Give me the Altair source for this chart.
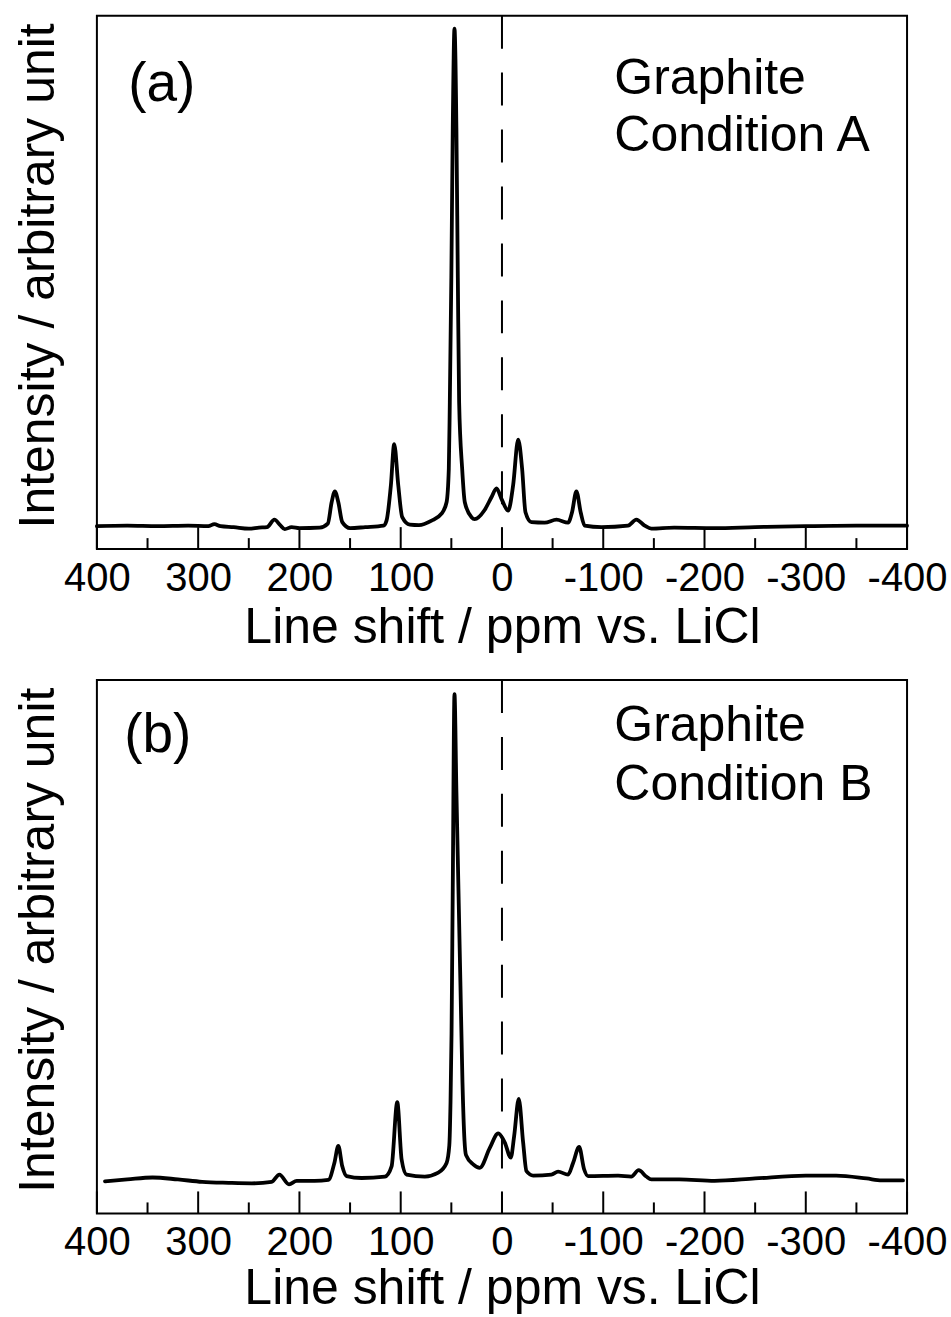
import altair as alt
import pandas as pd

# ---------------- data ----------------
# Panel (a): line shift (ppm) and relative intensity (main peak = 100)
ppm_a = [400, 370, 340, 310, 290, 284, 278, 265, 250, 240, 232, 224.7, 219, 214.5, 207.7, 200, 180,
         172, 168.2, 165, 161.6, 157.7, 150, 135, 117,
         114, 109.7, 106.4, 102.4, 98.5, 91, 82, 69.5, 59.7, 54.7, 52.5, 51.5,
         50.0, 48.6, 46.9, 45.0, 43.6, 42.3, 39.3, 36.7, 30.1, 27, 17.3, 10.4, 5.4, 0.5,
         -6.1, -11, -16, -19.9, -23.2, -29.1, -42.2, -53.8, -65.3, -69.2, -73.5, -77.7, -81.7,
         -98.2, -124.5, -132.7, -140.9, -147.5, -170, -210, -250, -300, -350, -400]
int_a = [0.0, 0.1, 0.0, 0.1, 0.0, 0.4, 0.0, -0.2, -0.5, -0.3, -0.2, 1.3, 0.2, -0.6, -0.2, -0.4, -0.3,
         0.5, 4.8, 7.0, 4.8, 0.8, -0.4, -0.2, 0.1,
         1.1, 8.2, 16.5, 8.2, 1.8, 0.3, 0.2, 1.1, 2.5, 4.8, 11.5, 24.9,
         50, 80, 100, 80, 50, 24.9, 11.5, 4.8, 1.8, 1.4, 3.2, 5.8, 7.6, 5.5,
         3.1, 8.2, 17.4, 11.5, 2.8, 0.8, 0.7, 1.3, 0.7, 2.8, 7.0, 2.8, 0.1,
         -0.2, 0.1, 1.3, 0.1, -0.5, -0.3, -0.4, -0.2, 0.0, 0.1, 0.1]

# Panel (b)
ppm_b = [392, 370, 345, 320, 296, 270, 247, 227.4, 219.8, 210.3, 202.7, 185, 171.4,
         165.5, 161.6, 157.7, 153.4, 138.6, 115.6, 109, 103.4, 99.1, 94.2, 76.2, 62.9, 54.7,
         52.0, 50.8, 49.8, 48.6, 46.9, 45.0, 43.0, 41.0, 39.0, 37.0, 35.5, 28.4, 21.9, 12, 3.7, -2.8, -8.7,
         -12, -16.6, -20.9, -24.2, -30.8, -48.8, -55.4, -65.3, -70.2, -76.2, -81.1, -85,
         -114.6, -127.7, -135, -142.5, -147.5, -175, -210, -250, -300, -330, -360, -375, -396]
int_b = [-0.4, 0.0, 0.4, 0.0, -0.5, -0.7, -0.8, -0.5, 1.0, -1.0, -0.3, -0.3, -0.1,
         3.4, 6.9, 2.7, 0.7, 0.3, 0.6, 2.7, 15.9, 4.1, 1.0, 0.6, 1.4, 3.4,
         7.0, 16.0, 30.0, 60.0, 100, 80, 60, 40, 20, 8.0, 5.0, 3.1, 2.4, 6.5, 9.5, 7.6, 4.5,
         8.9, 16.6, 7.6, 1.7, 0.8, 1.0, 1.6, 1.0, 3.4, 6.7, 2.1, 0.7,
         0.8, 0.6, 1.9, 0.6, 0.0, 0.0, -0.3, 0.2, 0.8, 0.8, 0.2, -0.2, -0.2]

major_ticks = [400, 300, 200, 100, 0, -100, -200, -300, -400]
minor_ticks = [350, 250, 150, 50, -50, -150, -250, -350]
zero_line = [0]

panel_tags = ["(a)", "(b)"]
sample_name = "Graphite"
conditions = ["Condition A", "Condition B"]
x_title = "Line shift / ppm vs. LiCl"
y_title = "Intensity / arbitrary unit"

# ---------------- styling ----------------
FONT = "Liberation Sans"
W, H = 811, 534


def text_layer(label, x, y, size, align, baseline):
    return alt.Chart(pd.DataFrame({"t": [label]})).mark_text(
        font=FONT, fontSize=size, align=align, baseline=baseline, color="black"
    ).encode(x=alt.value(x), y=alt.value(y), text="t:N")


def panel(ppm, inten, ydom, tag, cond, tag_y, g_y, c_y, tag_x, title_pad):
    spec = pd.DataFrame({"ppm": ppm, "intensity": inten})
    xscale = alt.Scale(domain=[-400, 400], reverse=True, nice=False, zero=False)
    xaxis = alt.Axis(
        values=major_ticks, labelExpr="'' + datum.value", ticks=False, domain=False, grid=False,
        labelFont=FONT, labelFontSize=40, labelColor="black", labelPadding=9,
        labelFlush=False, labelOverlap=False,
        titleFont=FONT, titleFontSize=50, titleFontWeight="normal", titleColor="black",
        titlePadding=title_pad,
    )
    yaxis = alt.Axis(
        labels=False, ticks=False, domain=False, grid=False,
        titleFont=FONT, titleFontSize=50, titleFontWeight="normal", titleColor="black",
        titleAngle=-90, titleX=-43, titleY=260, titleBaseline="alphabetic", titleAlign="center",
    )
    line = alt.Chart(spec).mark_line(
        color="black", strokeWidth=3.8, interpolate="monotone", strokeJoin="round", strokeCap="round"
    ).encode(
        x=alt.X("ppm:Q", scale=xscale, axis=xaxis, title=x_title),
        y=alt.Y("intensity:Q", scale=alt.Scale(domain=ydom, nice=False, zero=False), axis=yaxis, title=y_title),
        order="idx:Q",
    ).transform_window(idx="row_number()")
    zero = alt.Chart(pd.DataFrame({"ppm": zero_line})).mark_rule(
        color="black", strokeWidth=2, strokeDash=[33, 24]
    ).encode(x=alt.X("ppm:Q", title=x_title))
    major = alt.Chart(pd.DataFrame({"ppm": major_ticks})).mark_rule(
        color="black", strokeWidth=2
    ).encode(x=alt.X("ppm:Q", title=x_title), y=alt.value(H), y2=alt.value(H - 22))
    minor = alt.Chart(pd.DataFrame({"ppm": minor_ticks})).mark_rule(
        color="black", strokeWidth=2
    ).encode(x=alt.X("ppm:Q", title=x_title), y=alt.value(H), y2=alt.value(H - 11))
    t1 = text_layer(tag, tag_x, tag_y, 55, "center", "middle")
    t2 = text_layer(sample_name, 518, g_y, 50, "left", "alphabetic")
    t3 = text_layer(cond, 518, c_y, 50, "left", "alphabetic")
    return alt.layer(line, zero, major, minor, t1, t2, t3).properties(
        width=W, height=H, view=alt.ViewBackground(stroke="black", strokeWidth=2)
    )


pa = panel(ppm_a, int_a, [-4.62, 102.6], panel_tags[0], conditions[0], 68, 78, 135, 65, 4)
pb = panel(ppm_b, int_b, [-7.0, 102.9], panel_tags[1], conditions[1], 55, 61, 120, 61, 1)

chart = alt.vconcat(pa, pb, spacing=25).properties(
    padding={"left": 12, "top": 13, "right": 2, "bottom": 2},
    background="white",
).configure(font=FONT).configure_view(stroke="black", strokeWidth=2)

chart.save("out.html", embed_options={"renderer": "svg", "actions": False})
